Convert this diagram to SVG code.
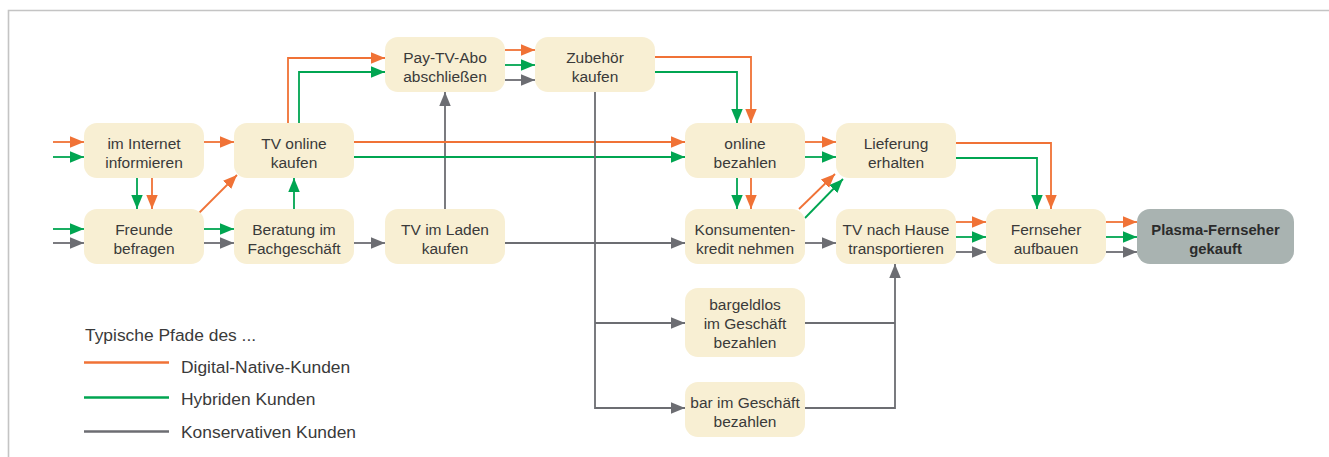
<svg xmlns="http://www.w3.org/2000/svg" width="1329" height="457" viewBox="0 0 1329 457">
<style>
.bg{fill:#ffffff}
.frame{fill:none;stroke:#c4c4c4;stroke-width:1.6}
.node rect{fill:#f8efd3}
.node text{font-family:"Liberation Sans",Arial,sans-serif;font-size:15.5px;fill:#3a3a3a;text-anchor:middle}
#n-plasma rect{fill:#a9b3b1}
#n-plasma text{font-weight:bold;fill:#2b2b2b;font-size:14.8px}
.c{fill:none;stroke-width:1.8}
.o{stroke:#f07236;marker-end:url(#ao)}
.g{stroke:#00a551;marker-end:url(#ag)}
.k{stroke:#6c6d72;marker-end:url(#ak)}
.k2{stroke:#6c6d72}
.legend text{font-family:"Liberation Sans",Arial,sans-serif;font-size:17.4px;fill:#3a3a3a}
.legend line{stroke-width:2.4}
</style>
<defs>
<marker id="ao" markerUnits="userSpaceOnUse" markerWidth="15" markerHeight="12" refX="14" refY="5.75" orient="auto"><path d="M0,0 L14,5.75 L0,11.5 z" fill="#f07236"/></marker>
<marker id="ag" markerUnits="userSpaceOnUse" markerWidth="15" markerHeight="12" refX="14" refY="5.75" orient="auto"><path d="M0,0 L14,5.75 L0,11.5 z" fill="#00a551"/></marker>
<marker id="ak" markerUnits="userSpaceOnUse" markerWidth="15" markerHeight="12" refX="14" refY="5.75" orient="auto"><path d="M0,0 L14,5.75 L0,11.5 z" fill="#6c6d72"/></marker>
</defs>
<rect class="bg" x="0" y="0" width="1329" height="457"/>
<path class="frame" d="M8.5,457 V10.5 H1329"/>

<g id="connectors">
<path class="c o" d="M53,142 H84"/>
<path class="c g" d="M53,157 H84"/>
<path class="c o" d="M204,142 H234"/>
<path class="c g" d="M137,178 V209"/>
<path class="c o" d="M152,178 V209"/>
<path class="c g" d="M53,229 H84"/>
<path class="c k" d="M53,243 H84"/>
<path class="c g" d="M204,229 H234"/>
<path class="c k" d="M204,243 H234"/>
<path class="c o" d="M199,213 L237,175"/>
<path class="c g" d="M294,209 V178"/>
<path class="c k" d="M354,243 H385"/>
<path class="c o" d="M288,123 V58 H385"/>
<path class="c g" d="M299,123 V72 H385"/>
<path class="c o" d="M505,50 H535"/>
<path class="c g" d="M505,65 H535"/>
<path class="c k" d="M505,80 H535"/>
<path class="c k" d="M445,209 V92"/>
<path class="c k" d="M505,243 H685"/>
<path class="c o" d="M354,142 H685"/>
<path class="c g" d="M354,157 H685"/>
<path class="c k" d="M595,92 V408 H685"/>
<path class="c k" d="M595,323 H685"/>
<path class="c o" d="M655,57 H751 V123"/>
<path class="c g" d="M655,72 H737 V123"/>
<path class="c o" d="M805,142 H836"/>
<path class="c g" d="M805,157 H836"/>
<path class="c g" d="M737,178 V209"/>
<path class="c o" d="M751,178 V209"/>
<path class="c o" d="M799,209 L835,174"/>
<path class="c g" d="M805,218 L843,179"/>
<path class="c k" d="M805,243 H836"/>
<path class="c o" d="M956,222 H986"/>
<path class="c g" d="M956,237 H986"/>
<path class="c k" d="M956,252 H986"/>
<path class="c o" d="M1106,222 H1137"/>
<path class="c g" d="M1106,237 H1137"/>
<path class="c k" d="M1106,252 H1137"/>
<path class="c o" d="M956,143 H1051 V209"/>
<path class="c g" d="M956,158 H1037 V209"/>
<path class="c k2" d="M805,323 H895"/>
<path class="c k" d="M805,408 H895 V264"/>
</g>

<g id="n-internet" class="node"><rect x="84" y="123" width="120" height="55" rx="13"/><text x="144" y="149">im Internet</text><text x="144" y="168">informieren</text></g>
<g id="n-tvonline" class="node"><rect x="234" y="123" width="120" height="55" rx="13"/><text x="294" y="149">TV online</text><text x="294" y="168">kaufen</text></g>
<g id="n-freunde" class="node"><rect x="84" y="209" width="120" height="55" rx="13"/><text x="144" y="235">Freunde</text><text x="144" y="254">befragen</text></g>
<g id="n-beratung" class="node"><rect x="234" y="209" width="120" height="55" rx="13"/><text x="294" y="235">Beratung im</text><text x="294" y="254">Fachgeschäft</text></g>
<g id="n-paytv" class="node"><rect x="385" y="37" width="120" height="55" rx="13"/><text x="445" y="63">Pay-TV-Abo</text><text x="445" y="82">abschließen</text></g>
<g id="n-zubehoer" class="node"><rect x="535" y="37" width="120" height="55" rx="13"/><text x="595" y="63">Zubehör</text><text x="595" y="82">kaufen</text></g>
<g id="n-laden" class="node"><rect x="385" y="209" width="120" height="55" rx="13"/><text x="445" y="235">TV im Laden</text><text x="445" y="254">kaufen</text></g>
<g id="n-onlinebez" class="node"><rect x="685" y="123" width="120" height="55" rx="13"/><text x="745" y="149">online</text><text x="745" y="168">bezahlen</text></g>
<g id="n-lieferung" class="node"><rect x="836" y="123" width="120" height="55" rx="13"/><text x="896" y="149">Lieferung</text><text x="896" y="168">erhalten</text></g>
<g id="n-kredit" class="node"><rect x="685" y="209" width="120" height="55" rx="13"/><text x="745" y="235">Konsumenten-</text><text x="745" y="254">kredit nehmen</text></g>
<g id="n-hause" class="node"><rect x="836" y="209" width="120" height="55" rx="13"/><text x="896" y="235">TV nach Hause</text><text x="896" y="254">transportieren</text></g>
<g id="n-aufbau" class="node"><rect x="986" y="209" width="120" height="55" rx="13"/><text x="1046" y="235">Fernseher</text><text x="1046" y="254">aufbauen</text></g>
<g id="n-plasma" class="node"><rect x="1137" y="209" width="157" height="55" rx="13"/><text x="1215.5" y="235">Plasma-Fernseher</text><text x="1215.5" y="254">gekauft</text></g>
<g id="n-bargeldlos" class="node"><rect x="685" y="288" width="120" height="69" rx="13"/><text x="745" y="309.5">bargeldlos</text><text x="745" y="328.5">im Geschäft</text><text x="745" y="347.5">bezahlen</text></g>
<g id="n-bar" class="node"><rect x="685" y="382" width="120" height="55" rx="13"/><text x="745" y="408">bar im Geschäft</text><text x="745" y="427">bezahlen</text></g>

<g id="legend" class="legend">
<text x="85" y="341">Typische Pfade des ...</text>
<line x1="84" y1="362.5" x2="169" y2="362.5" stroke="#f07236"/>
<text x="181" y="372.5">Digital-Native-Kunden</text>
<line x1="84" y1="397.5" x2="169" y2="397.5" stroke="#00a551"/>
<text x="181" y="405">Hybriden Kunden</text>
<line x1="84" y1="431.5" x2="169" y2="431.5" stroke="#6c6d72"/>
<text x="181" y="437.5">Konservativen Kunden</text>
</g>
</svg>
